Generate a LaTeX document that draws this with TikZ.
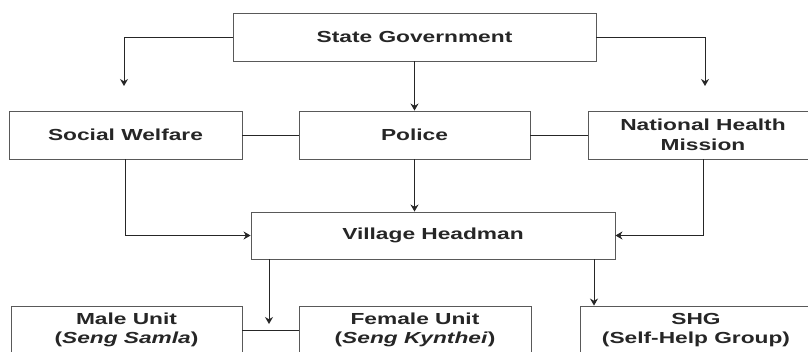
\documentclass[tikz,border=0pt]{standalone}
\usepackage{fontspec}
\newfontfamily\boxfont[FakeStretch=1.42]{Liberation Sans}
\usetikzlibrary{arrows.meta}

\tikzset{
  unit/.style={draw=black!65, line width=0.9pt, minimum height=48pt, inner sep=0pt,
    align=center, text=black!85, font=\boxfont\bfseries\fontsize{16}{19.5}\selectfont},
  link/.style={draw=black!85, line width=1pt}
}

\begin{document}
\begin{tikzpicture}[x=1pt, y=-1pt, >={Stealth[length=7pt, width=8pt]}]
  \useasboundingbox (0,0) rectangle (808,351);
  \clip (0,0) rectangle (808,351);

  \node[unit, minimum width=363pt] (gov) at (414.5,37) {State Government};
  \node[unit, minimum width=233pt] (sw) at (125.5,135) {Social Welfare};
  \node[unit, minimum width=231pt] (pol) at (414.5,135) {Police};
  \node[unit, minimum width=230pt] (nhm) at (703,135) {National Health\\Mission};
  \node[unit, minimum width=364pt, minimum height=47pt] (vh) at (433,235.5) {Village Headman};
  \node[unit, minimum width=231pt] (male) at (126.5,330) {Male Unit\\(\textit{Seng Samla})};
  \node[unit, minimum width=232pt] (female) at (415,330) {Female Unit\\(\textit{Seng Kynthei})};
  \node[unit, minimum width=232pt] (shg) at (696,330) {SHG\\(Self-Help Group)};

  \coordinate (swtip) at (124,86);
  \coordinate (nhmtip) at (705,86);
  \coordinate (vhl) at (269,259);
  \coordinate (unittip) at (269,324);
  \coordinate (vhr) at (594,259);

  % state level
  \draw[link, ->] (gov.west) -| (swtip);
  \draw[link, ->] (gov.east) -| (nhmtip);
  \draw[link, ->] (gov.south) -- (pol.north);
  \draw[link] (sw.east) -- (pol.west);
  \draw[link] (pol.east) -- (nhm.west);

  % to the headman
  \draw[link, ->] (sw.south) |- (vh.west);
  \draw[link, ->] (nhm.south) |- (vh.east);
  \draw[link, ->] (pol.south) -- (pol.south |- vh.north);

  % village level
  \draw[link, ->] (vhl) -- (unittip);
  \draw[link, ->] (vhr) -- (vhr |- shg.north);
  \draw[link] (male.east) -- (female.west);
\end{tikzpicture}
\end{document}
